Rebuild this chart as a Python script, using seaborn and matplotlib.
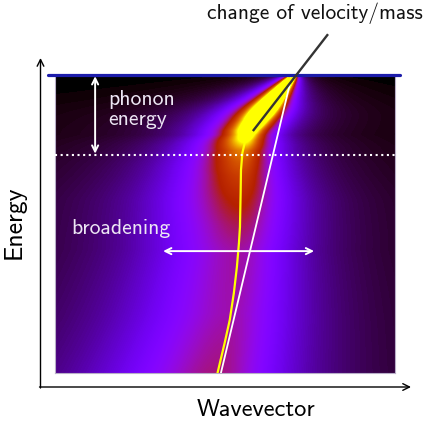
import numpy as np
import pandas as pd
import matplotlib
matplotlib.use("Agg")
import matplotlib.pyplot as plt
import seaborn as sns

# ---------------- data ----------------
# k runs 0..1 across the map, E runs -1 (bottom) .. 0 (top, Fermi level)
bare_k = [0.488, 0.697]
bare_E = [-1.0, 0.0]
dressed_k = [0.703, 0.638, 0.574, 0.560, 0.551, 0.547, 0.546, 0.545,
             0.544, 0.541, 0.535, 0.526, 0.514, 0.499, 0.478]
dressed_E = [0.0, -0.094, -0.185, -0.218, -0.262, -0.319, -0.396, -0.453,
             -0.510, -0.564, -0.644, -0.732, -0.822, -0.899, -1.0]
phonon_E = -0.268
# half width (in k) and peak height of the spectral ridge vs. energy
prof_E = [0.0, -0.017, -0.084, -0.151, -0.2, -0.252, -0.29, -0.336, -0.42, -0.50, -0.587, -0.8, -1.0]
prof_w = [0.005, 0.009, 0.022, 0.040, 0.049, 0.075, 0.09, 0.104, 0.13, 0.145, 0.16, 0.185, 0.195]
prof_amp = [4.0, 3.5, 3.0, 1.7, 1.2, 0.8, 0.7, 0.62, 0.52, 0.45, 0.39, 0.38, 0.42]
left_factor, right_factor = 1.3, 0.87

label_x = "Wavevector"
label_y = "Energy"
note_top = "change of velocity/mass"
note_phonon = ["phonon", "energy"]
note_broad = "broadening"

# ---------------- spectral map ----------------
nk, nE = 340, 298
k = np.linspace(0, 1, nk)
E = np.linspace(0, -1, nE)              # rows from top to bottom
kp = np.interp(E, dressed_E[::-1], dressed_k[::-1])
w = np.interp(E, prof_E[::-1], prof_w[::-1])
amp = np.interp(E, prof_E[::-1], prof_amp[::-1])
d = k[None, :] - kp[:, None]
wl = np.where(d < 0, left_factor, right_factor) * w[:, None]
A = amp[:, None] / (1.0 + (d / wl) ** 2)
df = pd.DataFrame(A, index=np.round(E, 3), columns=np.round(k, 3))

sns.set_theme(style="white")
W, H = 435, 423
fig = plt.figure(figsize=(W / 100, H / 100), dpi=100)
fig.patch.set_facecolor("white")
font = "cmss10"

rect = [55 / W, 1 - 373 / H, 340 / W, 298 / H]
ax = fig.add_axes(rect)
sns.heatmap(df, ax=ax, cmap="gnuplot", vmin=0, vmax=1, cbar=False,
            xticklabels=False, yticklabels=False, rasterized=True)
ax.set_xlabel(""); ax.set_ylabel("")
for s in ax.spines.values():
    s.set_visible(True); s.set_color("#b8aec8"); s.set_linewidth(0.8)

ax2 = fig.add_axes(rect)
ax2.set_xlim(0, 1); ax2.set_ylim(-1, 0); ax2.axis("off")
ax2.patch.set_alpha(0)

# Fermi level and phonon energy
ax2.axhline(0, xmin=-0.02, xmax=1.015, color="#1c1caa", lw=2.3, clip_on=False, zorder=5)
ax2.axhline(phonon_E, color="white", lw=1.5, linestyle=(0, (1, 1.7)),
            dash_capstyle="butt", zorder=4)

# bare and dressed dispersions
sns.lineplot(x=bare_k, y=bare_E, sort=False, estimator=None, color="white",
             lw=1.3, ax=ax2, zorder=3)
sns.lineplot(x=dressed_k, y=dressed_E, sort=False, estimator=None, color="#ffff00",
             lw=1.6, ax=ax2, zorder=3)

# pointer line to the note
ax2.plot([0.582, 0.803], [-0.188, 0.137], color="#333333", lw=1.7,
         clip_on=False, zorder=6, solid_capstyle="butt")

# arrows inside the map
ax2.annotate("", xy=(0.118, -0.004), xytext=(0.118, -0.264),
             arrowprops=dict(arrowstyle="<->", color="white", lw=1.4,
                             shrinkA=0, shrinkB=0, mutation_scale=11))
ax2.annotate("", xy=(0.318, -0.591), xytext=(0.762, -0.591),
             arrowprops=dict(arrowstyle="<->", color="white", lw=1.4,
                             shrinkA=0, shrinkB=0, mutation_scale=11))

# overlay in pixel coordinates for text and axis arrows
ax0 = fig.add_axes([0, 0, 1, 1])
ax0.set_xlim(0, W); ax0.set_ylim(H, 0); ax0.axis("off")
ax0.patch.set_alpha(0)
ax0.set_zorder(10)

txt_c = "#ece6f4"
ax0.text(108, 105, note_phonon[0], fontsize=15.6, family=font, color=txt_c, va="baseline")
ax0.text(108, 125, note_phonon[1], fontsize=15.6, family=font, color=txt_c, va="baseline")
ax0.text(120.5, 229, note_broad, fontsize=15.6, family=font, color=txt_c,
         ha="center", va="center")
ax0.text(314.5, 13, note_top, fontsize=15.4, family=font, color="#111111",
         ha="center", va="center")

ax0.annotate("", xy=(40.5, 58), xytext=(40.5, 388),
             arrowprops=dict(arrowstyle="->", color="black", lw=1.0,
                             shrinkA=0, shrinkB=0, mutation_scale=12))
ax0.annotate("", xy=(411, 387), xytext=(39.5, 387),
             arrowprops=dict(arrowstyle="->", color="black", lw=1.0,
                             shrinkA=0, shrinkB=0, mutation_scale=12))
ax0.text(14, 222, label_y, fontsize=18.5, family=font, rotation=90,
         ha="center", va="center", color="black")
ax0.text(256.5, 410, label_x, fontsize=17.5, family=font, ha="center", va="center",
         color="black")

fig.savefig("out.png", dpi=100, facecolor="white")
